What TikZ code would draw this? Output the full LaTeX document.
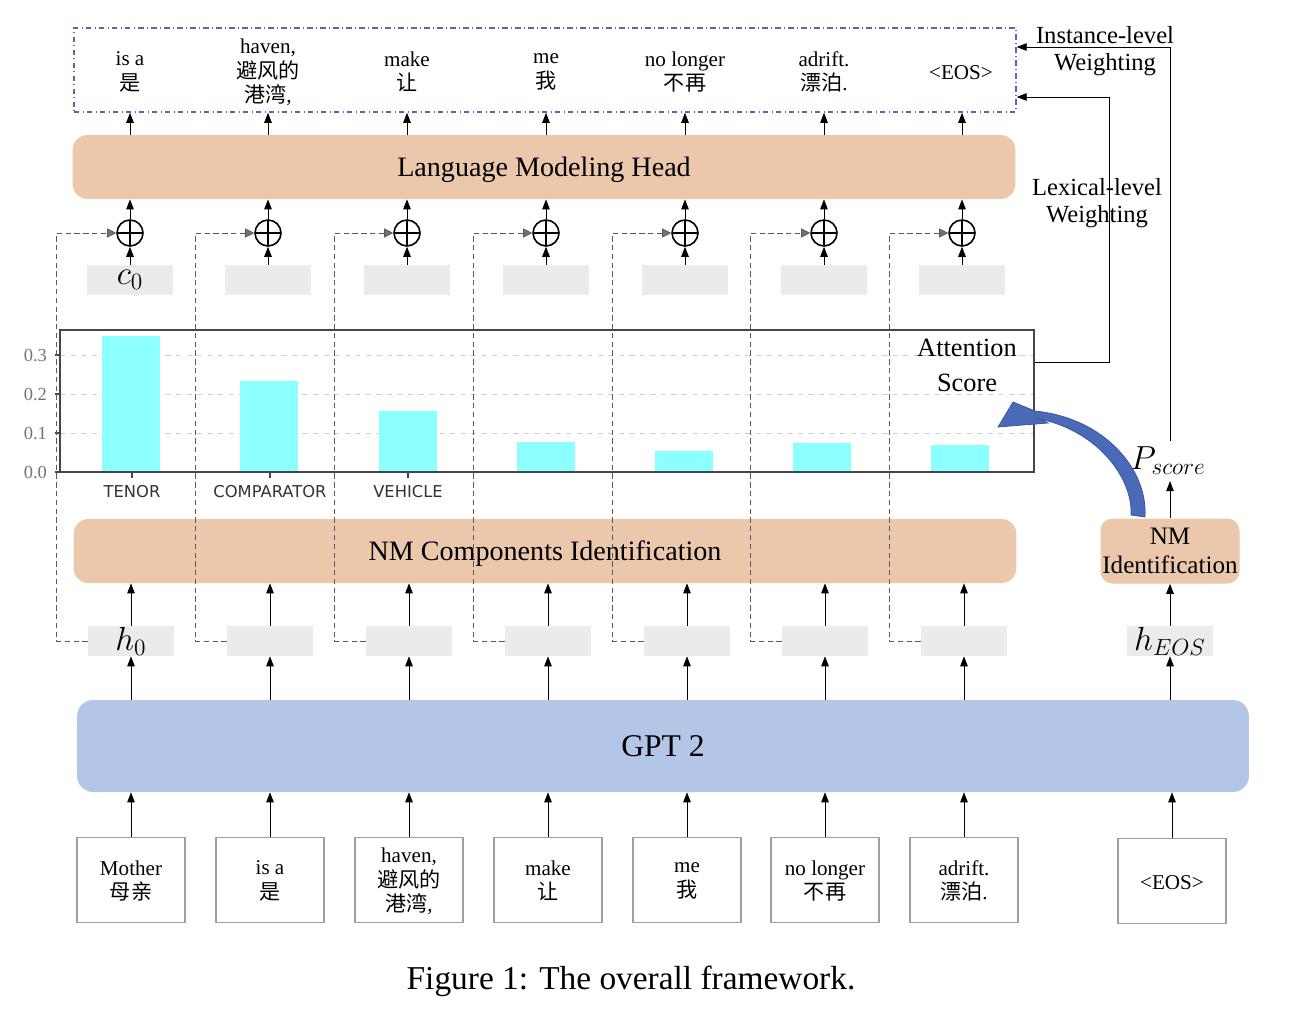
\RequirePackage{fix-cm}
\documentclass[tikz,border=0pt]{standalone}
\usepackage{fontspec}
\setmainfont{Liberation Serif}
\newfontfamily\cjk{Noto Sans CJK SC}
\newfontfamily\plotfont{DejaVu Sans}
\usepackage{xcolor}
\usetikzlibrary{arrows.meta, positioning, calc}

\definecolor{peach}{RGB}{235,200,171}
\definecolor{gptblue}{RGB}{180,198,231}
\definecolor{vecgray}{RGB}{235,235,235}
\definecolor{barcyan}{RGB}{140,255,255}
\definecolor{framegray}{RGB}{70,70,70}
\definecolor{outblue}{RGB}{80,108,168}
\definecolor{curveblue}{RGB}{74,106,184}
\definecolor{curveedge}{RGB}{52,80,158}

\begin{document}
\begin{tikzpicture}[x=0.02cm, y=-0.02cm,
			layer/.style={rectangle, rounded corners=0.3cm, fill=peach, minimum width=18.86cm, minimum height=1.28cm, text depth=0pt, font=\fontsize{16}{19}\selectfont},
			token/.style={rectangle, draw=gray!75, line width=0.8pt, minimum width=2.16cm, minimum height=1.7cm, align=center, text depth=0pt, font=\fontsize{12}{14}\selectfont, execute at begin node=\strut, execute at end node=\strut},
			word/.style={align=center, text depth=0pt, font=\fontsize{12}{14}\selectfont, execute at begin node=\strut, execute at end node=\strut},
			vec/.style={rectangle, fill=vecgray, minimum width=1.72cm, minimum height=0.6cm, inner sep=0pt, font=\fontsize{19}{19}\selectfont},
			plus/.style={circle, draw, line width=0.9pt, minimum size=0.52cm, inner sep=0pt, path picture={\draw[line width=0.9pt] (path picture bounding box.north) -- (path picture bounding box.south) (path picture bounding box.east) -- (path picture bounding box.west);}},
			arrow/.style={-{Triangle[length=2mm, width=1.5mm]}, line width=0.5pt},
			feed/.style={densely dashed, black!65, line width=0.4pt, -{Triangle[length=1.8mm, width=1.8mm, fill=black!55]}},
			grid/.style={dashed, black!18, line width=0.5pt},
			side/.style={align=center, font=\fontsize{14}{15.5}\selectfont}
			]
			
			\useasboundingbox (0,0) rectangle (1294,1024);
			
			% GPT 2
			\node[rectangle, rounded corners=0.32cm, fill=gptblue, minimum width=23.44cm, minimum height=1.84cm, font=\fontsize{18}{20}\selectfont] (gpt) at (663,746) {GPT 2};
			
			% Identification blocks
			\node[layer] (nmc) at (545,551) {NM Components Identification};
			\node[layer, minimum width=2.78cm, minimum height=1.3cm, rounded corners=0.24cm, inner sep=1pt, align=center, text depth=, font=\fontsize{14.3}{16.5}\selectfont] (nmid) at (1170,551) {NM\\Identification};
			
			% Language modeling head and outputs
			\node[layer] (lmh) at (544,167) {Language Modeling Head};
			\node[draw=outblue, dash dot, line width=0.9pt, minimum width=18.84cm, minimum height=1.68cm] (outbox) at (545,70) {};
			
			% Input tokens
			\foreach \i/\x/\txt in {1/131/{Mother\\{\cjk 母亲}}, 2/270/{is a\\{\cjk 是}}, 3/409/{haven,\\{\cjk 避风的}\\{\cjk 港湾},}, 4/548/{make\\{\cjk 让}}, 5/687/{me\\{\cjk 我}}, 6/825/{no longer\\{\cjk 不再}}, 7/964/{adrift.\\{\cjk 漂泊}.}} {
				\node[token] (tok-\i) at (\x,880) {\txt};
				\draw[arrow] (tok-\i.north) -- (tok-\i.north |- gpt.south);
			}
			\node[token] (tok-eos) at (1172,881) {<EOS>};
			\draw[arrow] (tok-eos.north) -- (tok-eos.north |- gpt.south);
			
			% Hidden states
			\foreach \i/\x/\txt in {1/131/{$h_0$}, 2/270/{}, 3/409/{}, 4/548/{}, 5/687/{}, 6/825/{}, 7/964/{}} {
				\node[vec] (h-\i) at (\x,641) {\txt};
				\draw[arrow] (h-\i.south |- gpt.north) -- (h-\i.south);
				\draw[arrow] (h-\i.north) -- (h-\i.north |- nmc.south);
			}
			\node[vec] (h-eos) at (1170,641) {$h_{EOS}$};
			\draw[arrow] (h-eos.south |- gpt.north) -- (h-eos.south);
			\draw[arrow] (h-eos.north) -- (nmid.south -| h-eos.north);
			
			% Attention score chart
			\foreach \v in {0.1,0.2,0.3} {
				\draw[grid] (60,{472-\v*390}) -- (1034,{472-\v*390});
			}
			\foreach \x/\v in {131/0.349, 269/0.233, 408/0.156, 546/0.077, 684/0.054, 822/0.074, 960/0.069} {
				\fill[barcyan] (\x-29,472) rectangle (\x+29,{472-\v*390});
			}
			\node[draw=framegray, line width=1.1pt, minimum width=19.48cm, minimum height=2.84cm, inner sep=0pt] (chart) at (547,401) {};
			\foreach \v [count=\k] in {0.0,0.1,0.2,0.3} {
				\draw[framegray, line width=0.6pt] (55,{472-\v*390}) -- (60,{472-\v*390});
				\node[left, inner sep=1pt, text=black!55, font=\fontsize{10.5}{10.5}\selectfont] (ylab-\k) at (49,{472-\v*390}) {\v};
			}
			\foreach \x/\lab [count=\k] in {132/TENOR, 270/COMPARATOR, 408/VEHICLE} {
				\draw[framegray, line width=0.6pt] (\x,472) -- (\x,478);
				\node[text=black!80, font=\plotfont\fontsize{9.3}{10}\selectfont] (xlab-\k) at (\x,492) {\lab};
			}
			\node[align=center, font=\fontsize{15}{20}\selectfont] (attn) at (967,365) {Attention\\Score};
			
			% Context vectors and sums
			\foreach \i/\x/\txt in {1/130/{$c_0$}, 2/268/{}, 3/407/{}, 4/546/{}, 5/685/{}, 6/824/{}, 7/962/{}} {
				\node[vec] (c-\i) at (\x,280) {\txt};
				\node[plus] (plus-\i) at (\x,233) {};
				\draw[arrow] (c-\i.north) -- (plus-\i.south);
				\draw[arrow] (plus-\i.north) -- (plus-\i.north |- lmh.south);
				\draw[arrow] (plus-\i.north |- lmh.north) -- (plus-\i.north |- outbox.south);
				\draw[feed] (h-\i.west) -- ++(-0.62cm,0) |- (plus-\i.west);
			}
			
			% Output words
			\foreach \i/\x/\txt in {1/130/{is a\\{\cjk 是}}, 2/268/{haven,\\{\cjk 避风的}\\{\cjk 港湾},}, 3/407/{make\\{\cjk 让}}, 4/546/{me\\{\cjk 我}}, 5/685/{no longer\\{\cjk 不再}}, 6/824/{adrift.\\{\cjk 漂泊}.}, 7/961/{<EOS>}} {
				\node[word] (out-\i) at (\x,71) {\txt};
			}
			
			% Weighting paths
			\node[font=\fontsize{19}{19}\selectfont] (pscore) at (1168,461) {$P_{score}$};
			\draw[arrow] (nmid.north) -- (nmid.north |- pscore.south);
			\coordinate (inst-in) at ([yshift=0.46cm]outbox.east);
			\draw[arrow] (nmid.north |- pscore.north) |- (inst-in);
			\node[side] (instlab) at (1105,51) {Instance-level\\Weighting};
			
			\coordinate (lex-out) at ([yshift=-0.66cm]chart.north east);
			\coordinate (lex-in) at ([yshift=-0.54cm]outbox.east);
			\draw[arrow] (lex-out) -- ++(1.5cm,0) |- (lex-in);
			\node[side] (lexlab) at (1097,203) {Lexical-level\\Weighting};
			
			% Curved arrow into the chart
			\fill[curveblue, draw=curveedge, line width=0.4pt] (1145,517) .. controls (1148,470) and (1105,418) .. (1035,411) -- (1013,402) -- (998,427) -- (1048,423) -- (1040,419) .. controls (1100,432) and (1133,480) .. (1131,515) -- cycle;
			
			% Caption
			\node[font=\fontsize{19}{21}\selectfont] (caption) at (631,981) {Figure 1: The overall framework.};
			
		\end{tikzpicture}
\end{document}
